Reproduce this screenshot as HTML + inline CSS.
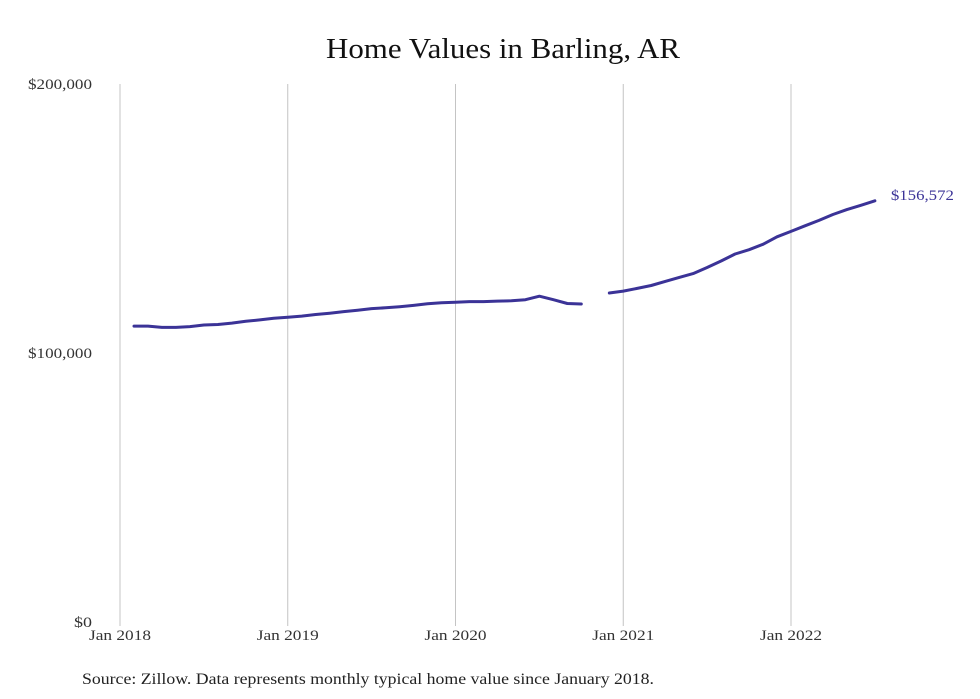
<!DOCTYPE html>
<html><head><meta charset="utf-8"><style>
html,body{margin:0;padding:0;background:#fff;}
svg{display:block;font-family:"Liberation Serif",serif;}
</style></head><body>
<svg id="chart" width="980" height="699">
<text x="326" y="58" textLength="354" lengthAdjust="spacingAndGlyphs" font-size="29" fill="#111">Home Values in Barling, AR</text>
<text x="82" y="684" textLength="572" lengthAdjust="spacingAndGlyphs" font-size="16" fill="#222">Source: Zillow. Data represents monthly typical home value since January 2018.</text>
<g id="grid"></g><g id="yaxis"></g><g id="xaxis"></g><g id="series"></g>
</svg>
<script>
const months = [];
for (let i = 1; i <= 54; i++) months.push(i); // months since Jan 2018
const values = [110000,110000,109500,109500,109800,110400,110600,111100,111800,112300,112900,113300,113700,114300,114800,115400,115900,116500,116800,117200,117700,118300,118700,118900,119100,119100,119300,119400,119800,121100,119800,118400,118200,null,122300,123000,124000,125100,126600,128100,129500,131800,134200,136800,138400,140400,143200,145200,147300,149300,151500,153300,154900,156572];
const yTicks = [0,100000,200000];
const yTickLabels = ["$0","$100,000","$200,000"];
const xTicks = [0,12,24,36,48];
const xTickLabels = ["Jan 2018","Jan 2019","Jan 2020","Jan 2021","Jan 2022"];
const lastLabel = "$156,572";

const NS = "http://www.w3.org/2000/svg";
const x = m => 120 + m * (671 / 48);
const y = v => 622 - v * (538 / 200000);
function mk(tag, attrs, parent, text) {
  const e = document.createElementNS(NS, tag);
  for (const k in attrs) e.setAttribute(k, attrs[k]);
  if (text !== undefined) e.textContent = text;
  parent.appendChild(e);
  return e;
}
const grid = document.getElementById('grid');
const xa = document.getElementById('xaxis');
const ya = document.getElementById('yaxis');
const sg = document.getElementById('series');
xTicks.forEach((m, i) => {
  const l = mk('line', {x1: x(m), x2: x(m), y1: 84, y2: 626, stroke: '#c4c4c4', 'stroke-width': 1}, grid);
  
  
  const t = mk('text', {x: x(m), y: 640, 'text-anchor': 'middle', 'font-size': 15, fill: '#333', textLength: 62, lengthAdjust: 'spacingAndGlyphs'}, xa, xTickLabels[i]);
  
  
});
yTicks.forEach((v, i) => {
  const len = yTickLabels[i].length > 3 ? 64 : 18;
  const t = mk('text', {x: 92, y: y(v) + 5, 'text-anchor': 'end', 'font-size': 15, fill: '#333', textLength: len, lengthAdjust: 'spacingAndGlyphs'}, ya, yTickLabels[i]);
  
  
});
let d = '', pen = false;
values.forEach((v, i) => {
  if (v === null) { pen = false; return; }
  d += (pen ? 'L' : 'M') + x(months[i]).toFixed(1) + ',' + y(v).toFixed(1);
  pen = true;
});
const p = mk('path', {d: d, fill: 'none', stroke: '#3b3397', 'stroke-width': 3, 'stroke-linejoin': 'round', 'stroke-linecap': 'round'}, sg);


const li = values.length - 1;
const lt = mk('text', {x: x(months[li]) + 16, y: y(values[li]) - 1, 'font-size': 15, fill: '#3b3397', textLength: 63, lengthAdjust: 'spacingAndGlyphs'}, sg, lastLabel);


</script>
</body></html>
